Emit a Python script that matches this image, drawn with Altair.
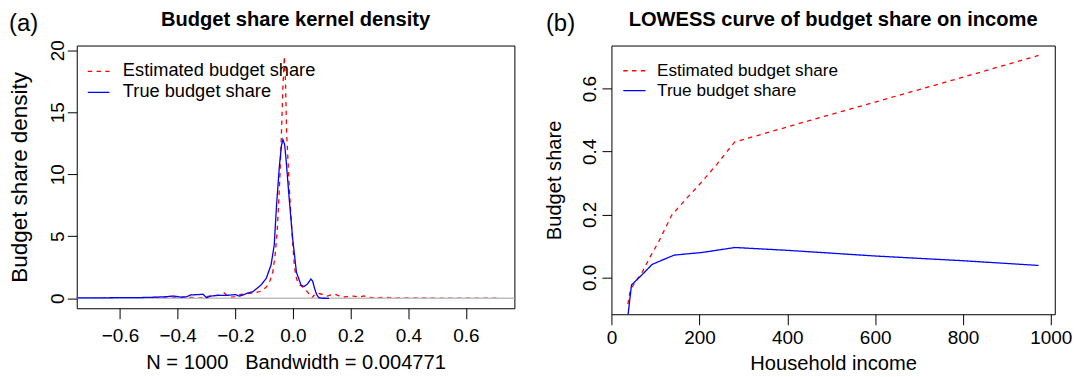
import altair as alt
import pandas as pd

FONT = "Liberation Sans"

# ---------------- Panel (a): kernel densities ----------------
est_x = [-0.694, -0.62, -0.55, -0.48, -0.42, -0.38, -0.35, -0.33, -0.31, -0.28, -0.255, -0.238,
         -0.222, -0.20, -0.185, -0.165, -0.15, -0.13, -0.115, -0.105, -0.095, -0.088, -0.080,
         -0.070, -0.062, -0.055, -0.050, -0.045, -0.040, -0.035, -0.030, -0.026, -0.022, -0.017,
         -0.013, -0.008, -0.0035, 0.0045, 0.010, 0.016, 0.025, 0.033, 0.042, 0.050, 0.058, 0.066,
         0.075, 0.085, 0.097, 0.108, 0.12, 0.131, 0.145, 0.16, 0.18, 0.195, 0.21, 0.23, 0.246,
         0.26, 0.29, 0.32, 0.36, 0.42, 0.50, 0.60, 0.712]
est_d = [0.02, 0.04, 0.05, 0.07, 0.10, 0.07, 0.08, 0.0, 0.10, 0.22, 0.25, 0.42,
         0.10, 0.12, 0.30, 0.35, 0.40, 0.45, 0.55, 0.70, 0.85, 1.07, 1.40,
         2.1, 3.5, 5.3, 7.5, 10.0, 13.3, 17.0, 19.5, 17.5, 13.3, 11.0,
         9.0, 7.0, 5.3, 2.7, 1.8, 1.33, 1.05, 0.93, 0.70, 0.53, 0.25, 0.05,
         0.30, 0.42, 0.35, 0.28, 0.18, 0.27, 0.33, 0.20, 0.11, 0.14, 0.18, 0.10, 0.20,
         0.08, 0.04, 0.08, 0.03, 0.04, 0.02, 0.02, 0.01]

true_x = [-0.78, -0.70, -0.62, -0.55, -0.48, -0.44, -0.415, -0.39, -0.37, -0.355, -0.33, -0.312,
          -0.30, -0.285, -0.26, -0.23, -0.20, -0.185, -0.17, -0.155, -0.14, -0.125, -0.11,
          -0.093, -0.076, -0.065, -0.057, -0.047, -0.040, -0.035, -0.029, -0.024, -0.013,
          -0.001, 0.012, 0.028, 0.038, 0.050, 0.062, 0.068, 0.075, 0.082, 0.090, 0.100, 0.125]
true_d = [0.05, 0.03, 0.05, 0.05, 0.09, 0.13, 0.19, 0.10, 0.12, 0.27, 0.30, 0.33,
          0.05, 0.18, 0.24, 0.24, 0.30, 0.18, 0.30, 0.45, 0.52, 0.80, 1.10,
          1.60, 2.70, 4.30, 7.5, 10.7, 12.3, 12.8, 12.4, 11.2, 8.0,
          4.8, 2.1, 1.07, 0.95, 1.15, 1.55, 1.40, 0.80, 0.30, 0.05, 0.01, 0.0]

# ---------------- Panel (b): LOWESS curves ----------------
low_est_x = [37, 41, 45, 55, 69, 88, 107, 137, 170, 200, 240, 280, 450, 600, 800, 972]
low_est_y = [-0.085, -0.052, -0.035, -0.012, 0.015, 0.066, 0.113, 0.198, 0.25, 0.295, 0.36,
             0.43, 0.498, 0.557, 0.636, 0.705]
low_true_x = [36.5, 45.3, 69, 92, 115, 143, 205, 281, 400, 600, 800, 972]
low_true_y = [-0.13, -0.024, 0.008, 0.041, 0.055, 0.071, 0.079, 0.095, 0.086, 0.068, 0.053, 0.038]

series = ["Estimated budget share", "True budget share"]
colors = ["#FF0000", "#0000FF"]
dashes = [[4.4, 4.4], [1, 0]]

a_xticks = [-0.6, -0.4, -0.2, 0.0, 0.2, 0.4, 0.6]
a_yticks = [0, 5, 10, 15, 20]
b_xticks = [0, 200, 400, 600, 800, 1000]
b_yticks = [0.0, 0.2, 0.4, 0.6]

AW, AH = 439.3, 263.7
BW, BH = 445, 269.7

color_scale = alt.Scale(domain=series, range=colors)
dash_scale = alt.Scale(domain=series, range=dashes)


def xaxis(values, fmt, title, pad, title_y):
    return alt.Axis(values=values, format=fmt, title=title, grid=False, domain=False,
                    tickSize=10.5, tickColor="black", tickWidth=1,
                    labelFont=FONT, labelFontSize=19, labelColor="black", labelPadding=pad,
                    labelFlush=False, labelOverlap=False,
                    titleFont=FONT, titleFontSize=20.2, titleFontWeight="normal",
                    titleColor="black", titleBaseline="alphabetic", titleAlign="center",
                    titleY=title_y)


def yaxis(values, fmt, title, pad, title_x, title_size):
    return alt.Axis(values=values, format=fmt, title=title, grid=False, domain=False,
                    tickSize=9.5, tickColor="black", tickWidth=1,
                    labelFont=FONT, labelFontSize=19, labelColor="black", labelPadding=pad,
                    labelAngle=270, labelAlign="center", labelBaseline="alphabetic",
                    labelFlush=False, labelOverlap=False,
                    titleFont=FONT, titleFontSize=title_size, titleFontWeight="normal",
                    titleColor="black", titleAngle=270, titleAlign="center",
                    titleBaseline="alphabetic", titleX=title_x)


def line_layer(xs, ys, name, xs_, ys_, xa, ya):
    df = pd.DataFrame({"x": xs, "y": ys, "s": name})
    return alt.Chart(df).mark_line(clip=True, strokeWidth=1.3).encode(
        x=alt.X("x:Q", scale=xs_, axis=xa),
        y=alt.Y("y:Q", scale=ys_, axis=ya),
        color=alt.Color("s:N", scale=color_scale, legend=None),
        strokeDash=alt.StrokeDash("s:N", scale=dash_scale, legend=None),
    )


def text_layer(txt, x, y, size, weight="normal", align="left", baseline="alphabetic"):
    return alt.Chart(pd.DataFrame({"t": [txt]})).mark_text(
        font=FONT, fontSize=size, fontWeight=weight, align=align, baseline=baseline,
        color="black").encode(text="t:N", x=alt.value(x), y=alt.value(y))


def legend_layers(x1, x2, xt, y1, y2, size):
    out = []
    for name, col, dash, yy in zip(series, colors, dashes, [y1, y2]):
        out.append(alt.Chart(pd.DataFrame({"s": [name]})).mark_rule(
            color=col, strokeWidth=1.3, strokeDash=dash).encode(
            x=alt.value(x1), x2=alt.value(x2), y=alt.value(yy)))
        out.append(text_layer(name, xt, yy, size, baseline="middle"))
    return out


# ---- panel (a)
ax_s = alt.Scale(domain=[-0.750, 0.768], nice=False, zero=False)
ay_s = alt.Scale(domain=[-0.8, 20.38], nice=False, zero=False)
ax_a = xaxis(a_xticks, ".1f", "N = 1000\u00a0\u00a0\u00a0Bandwidth = 0.004771", 7.4, 60.3)
ay_a = yaxis(a_yticks, "d", "Budget share density", 3.7, -50.3, 22.5)

zero_line = alt.Chart(pd.DataFrame({"y": [0]})).mark_rule(color="#BEBEBE", strokeWidth=1.5).encode(
    y=alt.Y("y:Q", scale=ay_s, axis=ay_a))

panel_a = alt.layer(
    line_layer(est_x, est_d, series[0], ax_s, ay_s, ax_a, ay_a),
    zero_line,
    line_layer(true_x, true_d, series[1], ax_s, ay_s, ax_a, ay_a),
    *legend_layers(11.1, 32.8, 46.3, 26, 47, 18.3),
    text_layer("Budget share kernel density", AW / 2, -19.5, 20.2, weight="bold", align="center"),
    text_layer("(a)", -68, -14.7, 24),
).properties(width=AW, height=AH)

# ---- panel (b)
bx_s = alt.Scale(domain=[-0.4, 1009], nice=False, zero=False)
by_s = alt.Scale(domain=[-0.117, 0.7365], nice=False, zero=False)
bx_a = xaxis(b_xticks, "d", "Household income", 3.8, 55)
by_a = yaxis(b_yticks, ".1f", "Budget share", 6.6, -50.9, 20.2)

panel_b = alt.layer(
    line_layer(low_est_x, low_est_y, series[0], bx_s, by_s, bx_a, by_a),
    line_layer(low_true_x, low_true_y, series[1], bx_s, by_s, bx_a, by_a),
    *legend_layers(11.9, 34.3, 45.8, 25.3, 45.3, 17.2),
    text_layer("LOWESS curve of budget share on income", BW / 2, -19.5, 20.2, weight="bold",
               align="center"),
    text_layer("(b)", -65.8, -14.7, 24),
).properties(width=BW, height=BH)

chart = alt.hconcat(panel_a, panel_b, spacing=96.7, bounds="flush").properties(
    padding={"left": 0, "top": 1, "right": 0, "bottom": 0},
    background="white",
).configure_view(stroke="black", strokeWidth=1)

chart.save("out.html", embed_options={"renderer": "svg", "actions": False})
